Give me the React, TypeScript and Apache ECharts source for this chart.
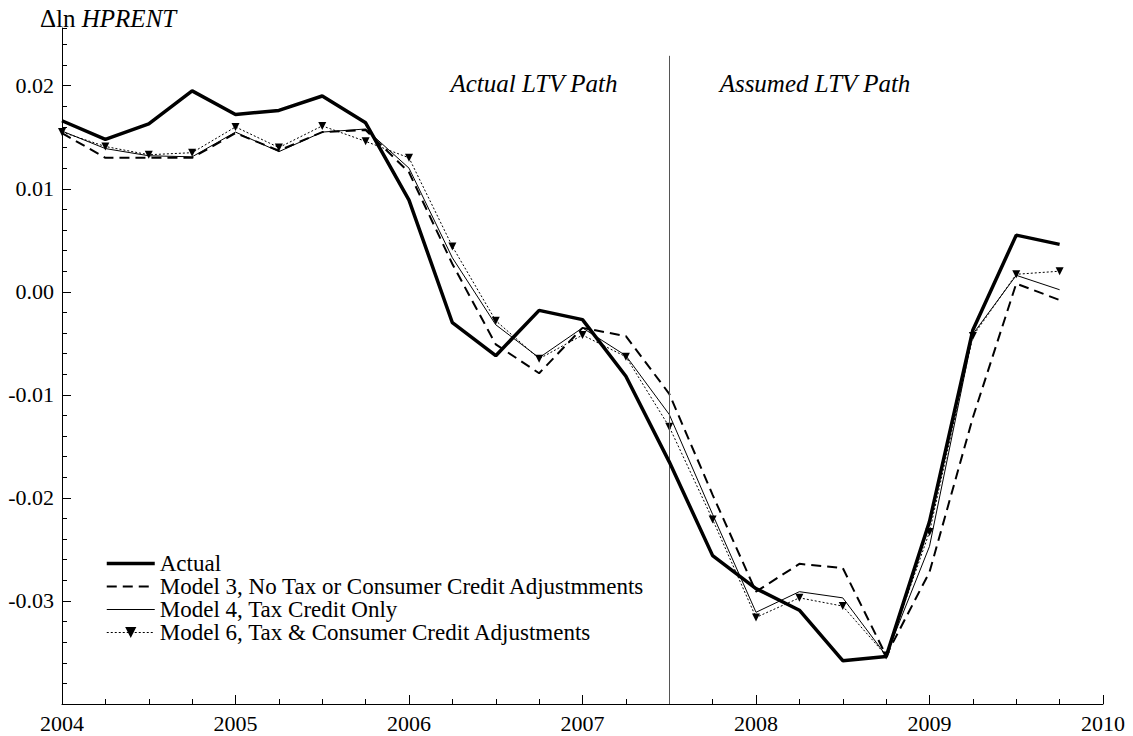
import React, { useEffect, useRef } from "react";
import * as echarts from "echarts";

const QUARTERS = [
  2004, 2004.25, 2004.5, 2004.75, 2005, 2005.25, 2005.5, 2005.75,
  2006, 2006.25, 2006.5, 2006.75, 2007, 2007.25, 2007.5, 2007.75,
  2008, 2008.25, 2008.5, 2008.75, 2009, 2009.25, 2009.5, 2009.75,
];

const ACTUAL = [
  0.0166, 0.0148, 0.0163, 0.0195, 0.0172, 0.0176, 0.019, 0.0164,
  0.0089, -0.003, -0.0062, -0.0018, -0.0027, -0.0082, -0.0165, -0.0256,
  -0.0288, -0.0309, -0.0358, -0.0354, -0.0223, -0.0037, 0.0055, 0.0046,
];

const MODEL3 = [
  0.0154, 0.013, 0.013, 0.013, 0.0154, 0.0137, 0.0155, 0.0157,
  0.0116, 0.0027, -0.0051, -0.0079, -0.0035, -0.0043, -0.0099, -0.0197,
  -0.0291, -0.0264, -0.0268, -0.0353, -0.0272, -0.0122, 0.0008, -0.0008,
];

const MODEL4 = [
  0.0156, 0.0139, 0.0132, 0.0131, 0.0155, 0.0136, 0.0155, 0.0158,
  0.012, 0.0033, -0.0032, -0.0064, -0.0035, -0.0062, -0.0119, -0.0216,
  -0.0311, -0.0291, -0.0297, -0.0353, -0.0247, -0.0041, 0.0016, 0.0002,
];

const MODEL6 = [
  0.0155, 0.0141, 0.0133, 0.0135, 0.016, 0.014, 0.0161, 0.0146,
  0.013, 0.0044, -0.0028, -0.0065, -0.0042, -0.0063, -0.0131, -0.0221,
  -0.0316, -0.0297, -0.0305, -0.0353, -0.0233, -0.0043, 0.0017, 0.002,
];

const SERIES_NAMES = [
  "Actual",
  "Model 3, No Tax or Consumer Credit Adjustmments",
  "Model 4, Tax Credit Only",
  "Model 6, Tax & Consumer Credit Adjustments",
];

const X_MIN = 2004;
const X_MAX = 2010;
const Y_MIN = -0.04;
const Y_MAX = 0.0256;
const BREAK_X = 2007.5;
const BREAK_TOP = 0.0229;

const FONT = "'Liberation Serif', 'Times New Roman', serif";

function pairs(vals: number[]) {
  return QUARTERS.map((q, i) => [q, vals[i]]);
}

export default function App() {
  const ref = useRef<HTMLDivElement>(null);

  useEffect(() => {
    if (!ref.current) return;
    const chart = echarts.init(ref.current, undefined, { renderer: "svg" });

    const option: any = {
      animation: false,
      backgroundColor: "#ffffff",
      textStyle: { fontFamily: FONT, color: "#000" },
      grid: { left: 62, right: 30, top: 28, bottom: 32, containLabel: false },
      title: {
        left: 35,
        top: 1,
        text: "{a|Δln }{b|HPRENT}",
        textStyle: {
          fontWeight: "normal",
          rich: {
            a: { fontFamily: FONT, fontSize: 25, fontWeight: "normal", color: "#000" },
            b: { fontFamily: FONT, fontSize: 25, fontWeight: "normal", fontStyle: "italic", color: "#000" },
          },
        },
      },
      legend: {
        orient: "vertical",
        left: 105,
        top: 552,
        padding: 0,
        itemGap: 0,
        itemWidth: 48,
        itemHeight: 14,
        data: [
          { name: SERIES_NAMES[0], itemStyle: { opacity: 0 }, lineStyle: { width: 3.5 } },
          { name: SERIES_NAMES[1], itemStyle: { opacity: 0 }, lineStyle: { width: 2 } },
          { name: SERIES_NAMES[2], itemStyle: { opacity: 0 }, lineStyle: { width: 1 } },
          { name: SERIES_NAMES[3], lineStyle: { width: 1 } },
        ],
        textStyle: { fontFamily: FONT, fontSize: 23, color: "#000", lineHeight: 23 },
      },
      xAxis: [
        {
          type: "value",
          min: X_MIN,
          max: X_MAX,
          interval: 1,
          axisLine: { show: true, onZero: false, lineStyle: { color: "#000", width: 1 } },
          axisTick: { show: true, inside: true, length: 9, lineStyle: { color: "#000" } },
          axisLabel: {
            color: "#000",
            fontFamily: FONT,
            fontSize: 22,
            margin: 8,
            formatter: (v: number) => String(Math.round(v)),
          },
          splitLine: { show: false },
        },
        {
          type: "value",
          min: X_MIN,
          max: X_MAX,
          interval: 0.25,
          position: "bottom",
          axisLine: { show: false, onZero: false },
          axisTick: { show: true, inside: true, length: 5, lineStyle: { color: "#000" } },
          axisLabel: { show: false },
          splitLine: { show: false },
        },
      ],
      yAxis: [
        {
          type: "value",
          min: Y_MIN,
          max: Y_MAX,
          interval: 0.01,
          axisLine: { show: true, onZero: false, lineStyle: { color: "#000", width: 1 } },
          axisTick: { show: true, inside: true, length: 9, lineStyle: { color: "#000" } },
          axisLabel: {
            color: "#000",
            fontFamily: FONT,
            fontSize: 22,
            margin: 8,
            showMinLabel: false,
            showMaxLabel: false,
            formatter: (v: number) => v.toFixed(2),
          },
          splitLine: { show: false },
        },
        {
          type: "value",
          min: Y_MIN,
          max: Y_MAX,
          interval: 0.002,
          position: "left",
          axisLine: { show: false, onZero: false },
          axisTick: { show: true, inside: true, length: 5, lineStyle: { color: "#000" } },
          axisLabel: { show: false },
          splitLine: { show: false },
        },
      ],
      graphic: [
        {
          type: "text",
          x: 534,
          y: 83,
          style: {
            text: "Actual LTV Path",
            font: `italic 25px ${FONT}`,
            fill: "#000",
            textAlign: "center",
            textVerticalAlign: "middle",
          },
        },
        {
          type: "text",
          x: 815,
          y: 83,
          style: {
            text: "Assumed LTV Path",
            font: `italic 25px ${FONT}`,
            fill: "#000",
            textAlign: "center",
            textVerticalAlign: "middle",
          },
        },
      ],
      series: [
        {
          name: SERIES_NAMES[0],
          type: "line",
          data: pairs(ACTUAL),
          symbol: "none",
          z: 5,
          lineStyle: { color: "#000", width: 3.5 },
          itemStyle: { color: "#000" },
          markLine: {
            silent: true,
            symbol: ["none", "none"],
            label: { show: false },
            lineStyle: { color: "#555", width: 1, type: "solid" },
            data: [[{ coord: [BREAK_X, BREAK_TOP] }, { coord: [BREAK_X, Y_MIN] }]],
          },
        },
        {
          name: SERIES_NAMES[1],
          type: "line",
          data: pairs(MODEL3),
          symbol: "none",
          lineStyle: { color: "#000", width: 2, type: [10, 6] },
          itemStyle: { color: "#000" },
        },
        {
          name: SERIES_NAMES[2],
          type: "line",
          data: pairs(MODEL4),
          symbol: "none",
          lineStyle: { color: "#000", width: 1 },
          itemStyle: { color: "#000" },
        },
        {
          name: SERIES_NAMES[3],
          type: "line",
          data: pairs(MODEL6),
          symbol: "triangle",
          symbolRotate: 180,
          symbolSize: 8,
          showSymbol: true,
          lineStyle: { color: "#000", width: 1, type: [2, 2] },
          itemStyle: { color: "#000" },
        },
      ],
    };

    chart.setOption(option);
    return () => chart.dispose();
  }, []);

  return (
    <div
      ref={ref}
      style={{ position: "fixed", left: 0, top: 0, width: 1133, height: 736, background: "#fff" }}
    />
  );
}
